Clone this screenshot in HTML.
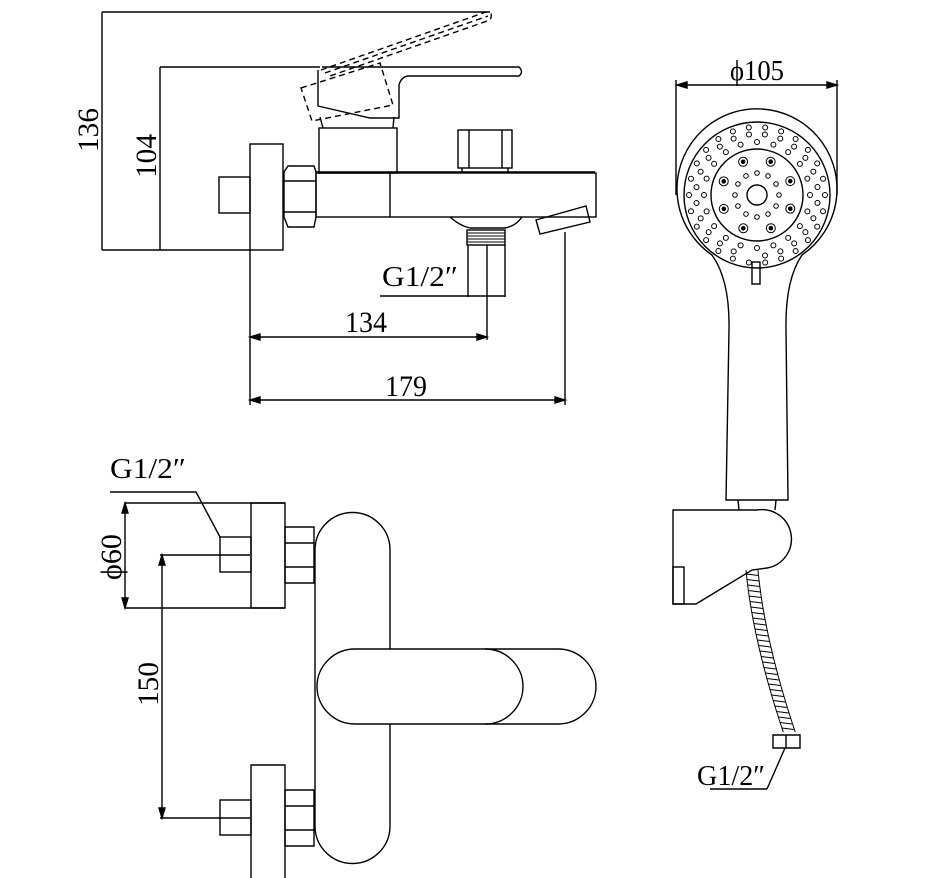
<!DOCTYPE html>
<html><head><meta charset="utf-8"><style>
html,body{margin:0;padding:0;background:#fff;}
svg{display:block}
text{font-family:"Liberation Serif",serif;fill:#000;}
</style></head><body>
<svg id="s" width="947" height="878" viewBox="0 0 947 878" xmlns="http://www.w3.org/2000/svg" fill="none" stroke="#000" stroke-width="1.4">
<!-- TOP VIEW dims -->
<line x1="102" y1="12" x2="490" y2="12"/>
<line x1="102" y1="12" x2="102" y2="250"/>
<line x1="160" y1="67" x2="320" y2="67"/>
<line x1="160" y1="67" x2="160" y2="250"/>
<line x1="102" y1="250" x2="250" y2="250"/>
<text x="0" y="0" font-size="30" transform="translate(98,152) rotate(-90)" textLength="44" lengthAdjust="spacingAndGlyphs" stroke="none">136</text>
<text x="0" y="0" font-size="30" transform="translate(156,178) rotate(-90)" textLength="44" lengthAdjust="spacingAndGlyphs" stroke="none">104</text>
<rect x="250" y="144" width="33" height="106"/>
<rect x="219" y="177" width="31" height="36"/>
<path d="M288,166 H314 L316,172 V217 L314,227 H288 L284,217 V172 Z M284,181 H316 M284,212 H316"/>
<rect x="316" y="173" width="280" height="44"/>
<line x1="316" y1="172" x2="595" y2="172"/>
<line x1="390" y1="173" x2="390" y2="217"/>
<rect x="319" y="128" width="78" height="45"/>
<line x1="323" y1="128" x2="320" y2="117"/><line x1="393" y1="128" x2="394" y2="117"/>
<path d="M318,70 V106 L370,118 H399 V85 Q401,77 408,76 H519 Q524,72 519,67 H322"/>
<g stroke-dasharray="6,4">
<path d="M321,70 L486,12 Q494,12 490,20 L330,76"/>
<path d="M325,73 L488,16"/>
<path d="M301,88 L380,63 L393,105 L312,121 Z"/>
</g>
<rect x="458" y="130" width="54" height="38"/>
<line x1="469" y1="130" x2="469" y2="168"/><line x1="502" y1="130" x2="502" y2="168"/>
<line x1="462" y1="168" x2="462" y2="172"/><line x1="508" y1="168" x2="508" y2="172"/>
<path d="M450,217 Q460,226 470,228 H505 Q516,226 522,217"/>
<rect x="467" y="230" width="38" height="15"/>
<g stroke-width="1">
<line x1="467" y1="233" x2="505" y2="233"/><line x1="467" y1="236" x2="505" y2="236"/><line x1="467" y1="239" x2="505" y2="239"/><line x1="467" y1="242" x2="505" y2="242"/>
</g>
<line x1="468" y1="245" x2="468" y2="297"/><line x1="487" y1="245" x2="487" y2="340"/><line x1="505" y1="245" x2="505" y2="297"/>
<line x1="380" y1="296" x2="505" y2="296"/>
<path d="M536,220 L586,206 L590,222 L540,234 Z"/>
<line x1="565" y1="232" x2="565" y2="405"/>
<text x="382" y="286" font-size="28" textLength="76" lengthAdjust="spacingAndGlyphs" stroke="none">G1/2″</text>
<line x1="250" y1="250" x2="250" y2="405"/>
<line x1="250" y1="337" x2="487" y2="337"/>
<line x1="250" y1="400" x2="565" y2="400"/>
<path d="M250,337 l10,-3 v6 Z M487,337 l-10,-3 v6 Z M250,400 l10,-3 v6 Z M565,400 l-10,-3 v6 Z" fill="#000"/>
<text x="345" y="332" font-size="30" textLength="42" lengthAdjust="spacingAndGlyphs" stroke="none">134</text>
<text x="385" y="396" font-size="30" textLength="42" lengthAdjust="spacingAndGlyphs" stroke="none">179</text>

<!-- SHOWER -->
<line x1="677" y1="85" x2="837" y2="85"/>
<line x1="676" y1="80" x2="676" y2="195"/><line x1="837" y1="80" x2="837" y2="195"/>
<path d="M677,85 l10,-3 v6 Z M837,85 l-10,-3 v6 Z" fill="#000"/>
<text x="730" y="80" font-size="28" textLength="54" lengthAdjust="spacingAndGlyphs" stroke="none">ϕ105</text>
<path d="M712,255 A80,80 0 1 1 802,255 Q785,280 786,330 L788,500 H726 L729,330 Q730,280 712,255 Z"/>
<circle cx="757" cy="195" r="73"/>
<circle cx="757" cy="195" r="46"/>
<circle cx="757" cy="195" r="10"/>
<rect x="752" y="262" width="8" height="22"/>
<g id="dots" stroke-width="1"></g>
<path d="M738,500 L739,510 M776,500 L775,510"/>
<path d="M673,510 H757 A29,29 0 0 1 767,568 L752,570 L696,604 H673 Z"/>
<rect x="673" y="567" width="11" height="37"/>
<g id="hose" stroke-width="1"></g>
<path d="M773,735 H800 V748 H773 Z M786,735 V748"/>
<line x1="785" y1="748" x2="767" y2="789"/>
<line x1="710" y1="789" x2="767" y2="789"/>
<text x="697" y="785" font-size="28" textLength="68" lengthAdjust="spacingAndGlyphs" stroke="none">G1/2″</text>

<!-- BOTTOM VIEW -->
<text x="110" y="478" font-size="28" textLength="76" lengthAdjust="spacingAndGlyphs" stroke="none">G1/2″</text>
<path d="M110,492 H196 L220,537"/>
<line x1="125" y1="503" x2="285" y2="503"/><line x1="125" y1="608" x2="285" y2="608"/>
<line x1="125" y1="503" x2="125" y2="608"/>
<path d="M125,503 l-3,10 h6 Z M125,608 l-3,-10 h6 Z" fill="#000"/>
<text x="0" y="0" font-size="30" transform="translate(121,580) rotate(-90)" textLength="46" lengthAdjust="spacingAndGlyphs" stroke="none">ϕ60</text>
<rect x="251" y="503" width="34" height="105"/>
<rect x="220" y="537" width="31" height="35"/>
<line x1="160" y1="555" x2="250" y2="555"/><line x1="160" y1="818" x2="250" y2="818"/>
<line x1="162" y1="555" x2="162" y2="818"/>
<path d="M162,555 l-3,10 h6 Z M162,818 l-3,-10 h6 Z" fill="#000"/>
<text x="0" y="0" font-size="30" transform="translate(158,706) rotate(-90)" textLength="44" lengthAdjust="spacingAndGlyphs" stroke="none">150</text>
<path d="M285,527 H314 V583 H285 Z M285,543 H314 M285,567 H314"/>
<path d="M285,790 H314 V846 H285 Z M285,806 H314 M285,830 H314"/>
<path d="M315,550 A37.5,37.5 0 0 1 390,550 V649 M390,724 V826 A37.5,37.5 0 0 1 315,826 V550"/>
<path d="M355,649 H558 A38,37.5 0 0 1 558,724 H355 A38,37.5 0 0 1 355,649 Z"/>
<path d="M485,649 A38,37.5 0 0 1 485,724"/>
<path d="M251,878 V765 H285 V878"/>
<rect x="220" y="800" width="31" height="35"/>
</svg>
<script>
var NS="http://www.w3.org/2000/svg";
var d=document.getElementById("dots"),cx=757,cy=195;
function c(x,y,r,f){var e=document.createElementNS(NS,"circle");e.setAttribute("cx",x);e.setAttribute("cy",y);e.setAttribute("r",r);if(f)e.setAttribute("fill","#000");d.appendChild(e);}
[[53,20,0],[61,24,0.13],[68,26,0]].forEach(function(a){for(var i=0;i<a[1];i++){var t=2*Math.PI*i/a[1]+a[2];var x=cx+a[0]*Math.cos(t),y=cy+a[0]*Math.sin(t);if(y>250&&Math.abs(x-cx)<8)continue;c(x,y,2.5);}});
for(var i=0;i<12;i++){var t=2*Math.PI*i/12;c(cx+22*Math.cos(t),cy+22*Math.sin(t),2.3);}
for(var i=0;i<8;i++){var t=2*Math.PI*i/8+0.39;c(cx+36*Math.cos(t),cy+36*Math.sin(t),4.5);c(cx+36*Math.cos(t),cy+36*Math.sin(t),1.8,1);}
var h=document.getElementById("hose");
function px(y){var s=(y-570)/(733-570);return 752+8*Math.sin(s*Math.PI*0.6)+30*s*s;}
var L="",R="";
for(var y=570;y<=733;y+=3){L+=(y==570?"M":"L")+(px(y)-6)+","+y+" ";R+=(y==570?"M":"L")+(px(y)+6)+","+y+" ";}
var p=document.createElementNS(NS,"path");p.setAttribute("d",L+R);h.appendChild(p);
for(var y=574;y<733;y+=5.5){var l=document.createElementNS(NS,"line");l.setAttribute("x1",px(y)-6);l.setAttribute("x2",px(y)+6);l.setAttribute("y1",y);l.setAttribute("y2",y+1.5);h.appendChild(l);}
</script>
</body></html>
